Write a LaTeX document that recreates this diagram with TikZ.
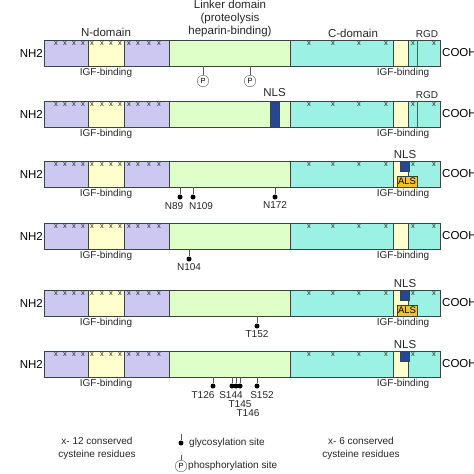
\documentclass[tikz,border=0pt]{standalone}
\usepackage{fontspec}
\setmainfont{Liberation Sans}
\usetikzlibrary{positioning}

\definecolor{ndomcol}{RGB}{205,200,242}
\definecolor{igfcol}{RGB}{255,255,205}
\definecolor{linkcol}{RGB}{222,255,200}
\definecolor{cdomcol}{RGB}{155,242,228}
\definecolor{edgecol}{RGB}{55,70,65}
\definecolor{nlscol}{RGB}{40,70,150}
\definecolor{alscol}{RGB}{240,195,40}
\definecolor{rgdcol}{RGB}{40,120,60}

\begin{document}
\begin{tikzpicture}[x=1pt,y=-1pt,
	xmark/.style={font=\fontsize{7.5}{7.5}\selectfont,inner sep=0pt,text=black!85},
	lab/.style={font=\fontsize{10}{13}\selectfont,inner sep=0pt,text=black!85},
	title/.style={font=\fontsize{11.5}{13}\selectfont,inner sep=0pt,text=black!85},
	endlab/.style={font=\fontsize{11.5}{12}\selectfont,inner sep=0pt},
	glyc/.style={circle,fill=black,inner sep=0pt,minimum size=5pt},
	phos/.style={circle,draw=gray!80!black,fill=white,inner sep=0pt,minimum size=11.5pt,font=\fontsize{7.5}{7.5}\selectfont},
	stalk/.style={gray!70!black,thin},
	nlsbox/.style={fill=nlscol,draw=edgecol,line width=0.6pt},
	alsbox/.style={fill=alscol,draw=edgecol,line width=0.6pt,inner sep=0pt,font=\fontsize{9.5}{9.5}\selectfont}]
	\useasboundingbox (0,0) rectangle (474,474);
	\def\h{26}
	% the six protein bars
	\foreach \t [count=\i] in {40,101,161,223,290,351} {
		\fill[ndomcol] (44.5,\t) rectangle (88,\t+\h);
		\fill[igfcol] (88,\t) rectangle (124,\t+\h);
		\fill[ndomcol] (124,\t) rectangle (169,\t+\h);
		\fill[linkcol] (169,\t) rectangle (290,\t+\h);
		\fill[cdomcol] (290,\t) rectangle (393,\t+\h);
		\fill[igfcol] (393,\t) rectangle (408,\t+\h);
		\fill[cdomcol] (408,\t) rectangle (440,\t+\h);
		\foreach \b in {88,124,169,290,393,408}
		\draw[edgecol,line width=0.7pt] (\b,\t) -- ++(0,\h);
		\draw[edgecol,line width=0.9pt] (44.5,\t) rectangle (440,\t+\h);
		\foreach \a in {56,65,74,83,92,102,111,120,129,138,149,159}
		\node[xmark] at (\a,\t+4) {x};
		\foreach \a in {309,333,359,386,413,434}
		\node[xmark] at (\a,\t+4) {x};
		\node[endlab,anchor=east] (nh\i) at (43,\t+13) {NH2};
		\node[endlab,anchor=west] (cooh\i) at (442,\t+13) {COOH};
		\node[lab] (igfn\i) at (106,\t+\h+7) {IGF-binding};
		\node[lab] (igfc\i) at (403,\t+\h+7) {IGF-binding};
	}
	% domain titles
	\node[title] (ndom) at (106,32) {N-domain};
	\node[title,align=center] (linker) at (230,19) {Linker domain\\(proteolysis\\heparin-binding)};
	\node[title] (cdom) at (353,33) {C-domain};
	% RGD sites
	\foreach \t/\r in {40/34,101/95} {
		\draw[rgdcol,line width=0.7pt] (417,\t) -- ++(0,\h);
		\node[lab] at (427,\r) {RGD};
	}
	% NLS and ALS
	\fill[nlsbox] (270,101) rectangle (279,127);
	\node[title] (nls2) at (274.5,93) {NLS};
	\foreach \t/\i in {161/3,290/5,351/6} {
		\fill[nlsbox] (400,\t) rectangle (409,\t+10.5);
		\node[title] (nls\i) at (405,\t-6) {NLS};
	}
	\foreach \t/\i in {161/3,290/5}
	\node[alsbox,minimum width=20pt,minimum height=11pt] (als\i) at (407,\t+20.5) {ALS};
	% phosphorylation sites
	\foreach \a [count=\k] in {203,250} {
		\node[phos] (p\k) at (\a,81) {P};
		\coordinate (pb\k) at (\a,66);
		\draw[stalk] (pb\k) -- (p\k);
	}
	% glycosylation sites
	\foreach \n/\a/\y/\c in {n89/180/197/187,n109/193/197/187,n172/275/197/187,n104/189/259/249,t152/257/326/316} {
		\node[glyc] (\n) at (\a,\y) {};
		\coordinate (\n b) at (\a,\c);
		\draw[stalk] (\n b) -- (\n);
	}
	\node[lab] at (174,206) {N89};
	\node[lab] at (201,206) {N109};
	\node[lab,below=2pt of n172] {N172};
	\node[lab,below=2pt of n104] {N104};
	\node[lab,below=2pt of t152] {T152};
	\foreach \n/\a in {t126/213,s144/232,t145/236,t146/240,s152/257} {
		\node[glyc] (\n) at (\a,386) {};
		\coordinate (\n b) at (\a,377);
		\draw[stalk] (\n b) -- (\n);
	}
	\node[lab] at (203,395) {T126};
	\node[lab] at (231,395) {S144};
	\node[lab] at (240,404) {T145};
	\node[lab] at (248,413) {T146};
	\node[lab] at (262,395) {S152};
	% legend
	\node[lab,align=center] (leg12) at (97,448) {x- 12 conserved\\cysteine residues};
	\node[lab,align=center] (leg6) at (361,448) {x- 6 conserved\\cysteine residues};
	\node[glyc] (legg) at (181,443) {};
	\coordinate (leggb) at (181,434);
	\draw[stalk] (leggb) -- (legg);
	\node[lab,anchor=west] (leggt) at (189,443) {glycosylation site};
	\node[phos] (legp) at (181,466) {P};
	\coordinate (legpb) at (181,455);
	\draw[stalk] (legpb) -- (legp);
	\node[lab,anchor=west] (legpt) at (188,466) {phosphorylation site};
\end{tikzpicture}
\end{document}
